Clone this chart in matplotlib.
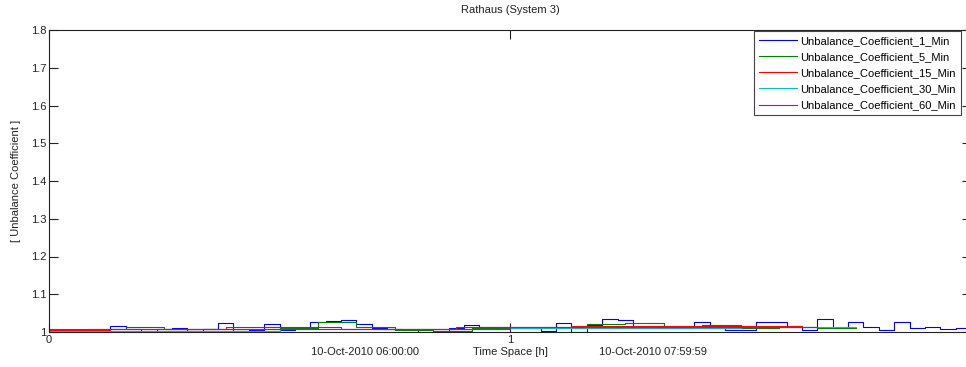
import matplotlib
matplotlib.use("Agg")
import matplotlib.pyplot as plt
import numpy as np

plt.rcParams["font.family"] = ["Liberation Sans", "DejaVu Sans"]
plt.rcParams["font.size"] = 8

title = "Rathaus (System 3)"
start_label = "10-Oct-2010 06:00:00"
end_label = "10-Oct-2010 07:59:59"

# 1 minute coefficient, averaged into 2 minute steps
c1_start = list(range(0, 120, 2))
c1_end = 120
c1_vals = [1.005, 1.005, 1.003, 1.005, 1.016, 1.008, 1.003, 1.008, 1.011, 1.003,
           1.008, 1.024, 1.003, 1.005, 1.021, 1.005, 1.011, 1.027, 1.029, 1.032,
           1.021, 1.011, 1.008, 1.005, 1.000, 1.001, 1.011, 1.019, 1.013, 1.013,
           1.011, 1.011, 1.003, 1.024, 0.999, 1.019, 1.035, 1.032, 1.013, 1.016,
           1.011, 1.011, 1.027, 1.011, 1.005, 1.005, 1.027, 1.027, 1.016, 1.005,
           1.035, 1.011, 1.027, 1.013, 1.005, 1.027, 1.011, 1.013, 1.008, 1.011]

# 5 minute coefficient
c5_start = list(range(0, 105, 5))
c5_end = 105
c5_vals = [1.005, 1.008, 1.013, 1.008, 1.008, 1.008, 1.011, 1.027, 1.013, 1.005,
           1.003, 1.011, 1.011, 1.011, 1.021, 1.024, 1.013, 1.019, 1.011, 1.013,
           1.011]

# 15 minute coefficient
c15_start = [0, 8, 23, 38, 53, 68, 83]
c15_end = 98
c15_vals = [1.005, 1.008, 1.013, 1.008, 1.013, 1.016, 1.016]

# 30 minute coefficient
c30_start = [0, 30, 60, 90]
c30_end = 105
c30_vals = [1.003, 1.008, 1.011, 1.013]

# 60 minute coefficient
c60_start = [0, 60]
c60_end = 100
c60_vals = [1.008, 1.013]

series = [
    ("Unbalance_Coefficient_1_Min", c1_start, c1_end, c1_vals, (0, 0, 1)),
    ("Unbalance_Coefficient_5_Min", c5_start, c5_end, c5_vals, (0, 0.5, 0)),
    ("Unbalance_Coefficient_15_Min", c15_start, c15_end, c15_vals, (1, 0, 0)),
    ("Unbalance_Coefficient_30_Min", c30_start, c30_end, c30_vals, (0, 0.75, 0.75)),
    ("Unbalance_Coefficient_60_Min", c60_start, c60_end, c60_vals, (0.75, 0, 0.75)),
]

W, H = 966, 367
fig = plt.figure(figsize=(W / 100, H / 100), dpi=100)
ax = fig.add_axes([49 / W, 35 / H, 922 / W, 302 / H])

for name, start, end, vals, color in series:
    x = np.array(start + [end]) / 60.0
    y = vals + [vals[-1]]
    ax.step(x, y, where="post", color=color, lw=0.8, label=name)

ax.set_xlim(0, 2)
ax.set_ylim(1, 1.8)
ax.set_xticks([0, 1, 2])
# the label for 2 h falls past the right edge of the figure
ax.set_xticklabels(["0", "1", ""])
ax.set_yticks(np.arange(1, 1.81, 0.1))
ax.set_yticklabels(["1", "1.1", "1.2", "1.3", "1.4", "1.5", "1.6", "1.7", "1.8"])
ax.tick_params(direction="in", length=6.5, width=0.8, top=True, right=True,
               colors="#222222", labelsize=8, pad=2)
for s in ax.spines.values():
    s.set_linewidth(0.8)
    s.set_color("#222222")

ax.set_title(title, fontsize=8, color="#222222", pad=12)
ax.set_ylabel("[ Unbalance Coefficient ]", fontsize=8, color="#222222", labelpad=7)

fig.text(365 / W, 1 - 352 / H, start_label, ha="center", va="center", fontsize=8, color="#222222")
fig.text(510 / W, 1 - 352 / H, "Time Space [h]", ha="center", va="center", fontsize=8, color="#222222")
fig.text(653 / W, 1 - 352 / H, end_label, ha="center", va="center", fontsize=8, color="#222222")

leg = ax.legend(loc="upper right", bbox_to_anchor=(961 / W, 1 - 31 / H),
                bbox_transform=fig.transFigure, borderaxespad=0, fontsize=8,
                handlelength=3.4, handletextpad=0.3, labelspacing=0.55,
                fancybox=False, framealpha=1, edgecolor="#444444", borderpad=0.45)
leg.get_frame().set_linewidth(0.8)

fig.savefig("out.png", dpi=100)
